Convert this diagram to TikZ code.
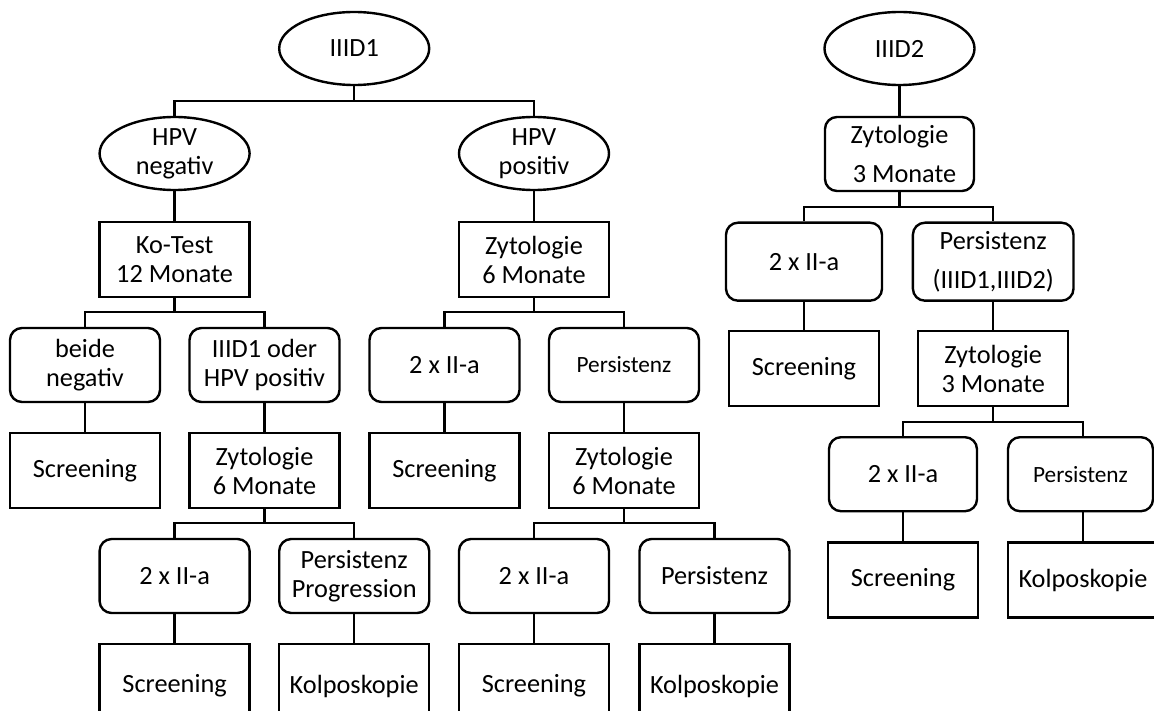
\documentclass[tikz,border=0pt]{standalone}
\usepackage{fontspec}
\setmainfont{Carlito}
\usetikzlibrary{shapes.geometric}
\begin{document}
\begin{tikzpicture}[x=1pt,y=-1pt,line width=2.4pt,
  every node/.style={inner sep=0pt,align=center,font=\fontsize{26.3pt}{29pt}\selectfont},
  oval/.style={draw,ellipse,minimum width=150pt,minimum height=73pt},
  sq/.style={draw,rectangle,minimum width=150pt,minimum height=75pt},
  rbox/.style={draw,rectangle,rounded corners=12pt,minimum width=150pt,minimum height=74pt},
  smalltext/.style={font=\fontsize{23.3pt}{26pt}\selectfont},
  widespace/.style={font=\fontsize{26.3pt}{39.5pt}\selectfont}]
\useasboundingbox (0,0) rectangle (1154,711);
\fill[white] (0,0) rectangle (1154,711);
\clip (0,0) rectangle (1154,711);
% left tree
\node[oval] (r1) at (354.2,48.5) {IIID1};
\node[oval] (hn) at (174.6,153.5) {HPV\\negativ};
\node[oval] (hp) at (534,153.5) {HPV\\positiv};
\node[sq] (kt) at (174.6,259.5) {Ko-Test\\12 Monate};
\node[sq] (zp) at (534,259.5) {Zytologie\\6 Monate};
\node[rbox] (bn) at (85,365) {beide\\negativ};
\node[rbox] (io) at (264.5,365) {IIID1 oder\\HPV positiv};
\node[rbox] (m2) at (444.5,365) {2 x II-a};
\node[rbox,smalltext] (mp) at (624,365) {Persistenz};
\node[sq] (s1) at (85,470.5) {Screening};
\node[sq] (zl) at (264.5,470.5) {Zytologie\\6 Monate};
\node[sq] (s2) at (444.5,470.5) {Screening};
\node[sq] (zm) at (624,470.5) {Zytologie\\6 Monate};
\node[rbox] (l2) at (174.6,576) {2 x II-a};
\node[rbox] (lp) at (354.2,576) {Persistenz\\Progression};
\node[rbox] (r2) at (534,576) {2 x II-a};
\node[rbox] (rp) at (714.5,576) {Persistenz};
\node[sq,minimum height=84pt] (l2s) at (174.6,686) {Screening};
\node[sq,minimum height=84pt] (lpk) at (354.2,686) {Kolposkopie};
\node[sq,minimum height=84pt] (r2s) at (534,686) {Screening};
\node[sq,minimum height=84pt] (rpk) at (714.5,686) {Kolposkopie};
% right tree
\node[oval] (t2) at (899.5,48.5) {IIID2};
\node[rbox,widespace,minimum width=149pt] (z3) at (899.5,154) {Zytologie\\\hspace*{10pt}3 Monate};
\node[rbox,minimum width=156pt,minimum height=78pt] (a2) at (804,261.7) {2 x II-a};
\node[rbox,widespace,minimum width=160.6pt,minimum height=78pt] (ap) at (993.2,261.7) {Persistenz\\(IIID1,IIID2)};
\node[sq] (s3) at (804,368.5) {Screening};
\node[sq] (z4) at (993.2,368.5) {Zytologie\\3 Monate};
\node[rbox,minimum width=148pt] (b2) at (903,474.2) {2 x II-a};
\node[rbox,smalltext,minimum width=145pt] (bp) at (1080.5,474.2) {Persistenz};
\node[sq] (s4) at (903,580) {Screening};
\node[sq] (kk) at (1083,580) {Kolposkopie};
% junctions
\coordinate (j1) at (354.2,101);
\coordinate (j2) at (174.6,312);
\coordinate (j3) at (534,312);
\coordinate (j4) at (264.5,523);
\coordinate (j5) at (624,523);
\coordinate (j6) at (899.5,207);
\coordinate (j7) at (993.2,421.7);
% connectors
\draw (r1.south) -- (j1);
\draw (hn.north) |- (j1) -| (hp.north);
\draw (hn.south) -- (kt.north);
\draw (hp.south) -- (zp.north);
\draw (kt.south) -- (j2);
\draw (bn.north) |- (j2) -| (io.north);
\draw (zp.south) -- (j3);
\draw (m2.north) |- (j3) -| (mp.north);
\draw (bn.south) -- (s1.north);
\draw (io.south) -- (zl.north);
\draw (m2.south) -- (s2.north);
\draw (mp.south) -- (zm.north);
\draw (zl.south) -- (j4);
\draw (l2.north) |- (j4) -| (lp.north);
\draw (zm.south) -- (j5);
\draw (r2.north) |- (j5) -| (rp.north);
\draw (l2.south) -- (l2s.north);
\draw (lp.south) -- (lpk.north);
\draw (r2.south) -- (r2s.north);
\draw (rp.south) -- (rpk.north);
\draw (t2.south) -- (z3.north);
\draw (z3.south) -- (j6);
\draw (a2.north) |- (j6) -| (ap.north);
\draw (a2.south) -- (s3.north);
\draw (ap.south) -- (z4.north);
\draw (z4.south) -- (j7);
\draw (b2.north) |- (j7) -| (kk.north |- bp.north);
\draw (b2.south) -- (s4.north);
\draw (bp.south -| kk.north) -- (kk.north);
\end{tikzpicture}
\end{document}
